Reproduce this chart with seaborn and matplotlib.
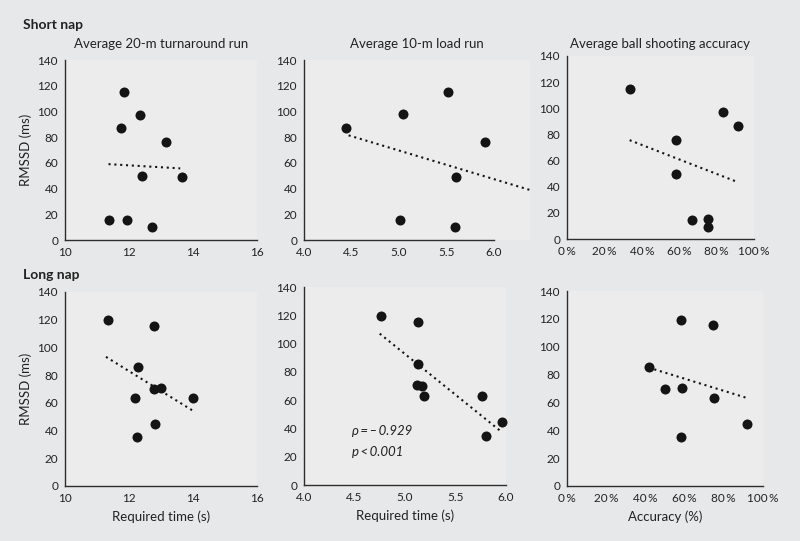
import matplotlib
matplotlib.use("Agg")
import matplotlib.pyplot as plt
import seaborn as sns

# Values
short_turn_x = [11.83, 12.35, 11.75, 13.15, 12.41, 13.66, 11.36, 11.94, 12.73]
short_turn_y = [115, 97.5, 87, 76, 50, 49, 15.3, 15.6, 10.4]
short_load_x = [4.44, 5.04, 5.52, 5.91, 5.60, 5.01, 5.59]
short_load_y = [87.2, 97.7, 115.3, 76.4, 49.1, 15.2, 10.0]
short_acc_x = [33.5, 83.3, 91.6, 58.4, 58.4, 66.9, 75.3, 75.3]
short_acc_y = [115, 97.5, 86.8, 76.1, 49.4, 14.8, 15, 9.4]

long_turn_x = [11.33, 12.77, 12.27, 12.79, 13.0, 12.20, 14.01, 12.81, 12.25]
long_turn_y = [119.6, 115.5, 86.2, 70.1, 70.8, 63.6, 63.4, 45.1, 35.5]
long_load_x = [4.76, 5.13, 5.13, 5.12, 5.17, 5.19, 5.76, 5.96, 5.80]
long_load_y = [119.3, 115.2, 85.6, 70.5, 70.0, 62.9, 62.7, 44.5, 34.9]
long_acc_x = [58.3, 74.7, 41.7, 50.0, 58.5, 74.8, 91.7, 58.3]
long_acc_y = [118.9, 115.3, 85.7, 69.9, 70.4, 62.9, 44.7, 35.2]

# trend line end points (x0, x1), (y0, y1)
trend_short_turn = ([11.36, 13.6], [59, 55.7])
trend_short_load = ([4.47, 6.38], [81.4, 38.9])
trend_short_acc = ([33.5, 89.9], [75.6, 44.3])
trend_long_turn = ([11.28, 14.02], [93.2, 54.0])
trend_long_load = ([4.75, 5.95], [107, 37.9])
trend_long_acc = ([41.7, 91.8], [85, 63.2])

titles = ["Average 20-m turnaround run", "Average 10-m load run",
          "Average ball shooting accuracy"]
y_ticks = [0, 20, 40, 60, 80, 100, 120, 140]
time_ticks = [10, 12, 14, 16]
load_ticks = [4.0, 4.5, 5.0, 5.5, 6.0]
load_labels = ["4.0", "4.5", "5.0", "5.5", "6.0"]
acc_ticks = [0, 20, 40, 60, 80, 100]
acc_labels = ["0\u2009%", "20\u2009%", "40\u2009%", "60\u2009%", "80\u2009%", "100\u2009%"]

sns.set_theme(style="white")
plt.rcParams["font.family"] = ["Lato", "DejaVu Sans"]

bg = "#e7e8e9"
panel_bg = "#ececed"
dot_col = "#141414"
axis_col = "#2e2e2e"
text_col = "#222222"

W, H = 800, 541
fig = plt.figure(figsize=(8, 5.41), dpi=100, facecolor=bg)


def make_ax(left, right, top, bottom):
    return fig.add_axes([left / W, 1 - bottom / H, (right - left) / W, (bottom - top) / H])


def style(ax, xlim, xticks, xlabels, spine_end):
    ax.set_facecolor(panel_bg)
    ax.set_xlim(xlim)
    ax.set_ylim(0, 140)
    ax.set_yticks(y_ticks)
    ax.set_xticks(xticks)
    ax.set_xticklabels(xlabels)
    for s in ["top", "right"]:
        ax.spines[s].set_visible(False)
    for s in ["left", "bottom"]:
        ax.spines[s].set_color(axis_col)
        ax.spines[s].set_linewidth(1.0)
    ax.spines["bottom"].set_bounds(xlim[0], spine_end)
    ax.tick_params(axis="x", length=0, pad=5, labelsize=8.5, colors=text_col)
    ax.tick_params(axis="y", length=0, pad=5, labelsize=8.5, colors=text_col)
    ax.set_xlabel("")
    ax.set_ylabel("")


def draw(ax, xs, ys, trend):
    sns.scatterplot(x=xs, y=ys, ax=ax, s=52, color=dot_col, edgecolor=dot_col,
                    linewidth=0, clip_on=False, zorder=3)
    ax.plot(trend[0], trend[1], color=dot_col, lw=1.5,
            linestyle=(0, (1, 1.8)), clip_on=False, zorder=2)


# top row: short nap
ax1 = make_ax(65, 257, 60, 240)
draw(ax1, short_turn_x, short_turn_y, trend_short_turn)
style(ax1, (10, 16), time_ticks, [str(t) for t in time_ticks], 16)

ax2 = make_ax(304, 530, 60, 240)
draw(ax2, short_load_x, short_load_y, trend_short_load)
style(ax2, (4.0, 6.38), load_ticks, load_labels, 6.0)

ax3 = make_ax(567, 754, 56, 239)
draw(ax3, short_acc_x, short_acc_y, trend_short_acc)
style(ax3, (0, 100), acc_ticks, acc_labels, 100)

# bottom row: long nap
ax4 = make_ax(65, 257, 292, 486)
draw(ax4, long_turn_x, long_turn_y, trend_long_turn)
style(ax4, (10, 16), time_ticks, [str(t) for t in time_ticks], 16)

ax5 = make_ax(304, 506, 287, 485)
draw(ax5, long_load_x, long_load_y, trend_long_load)
style(ax5, (4.0, 6.0), load_ticks, load_labels, 6.0)

ax6 = make_ax(567, 763, 291, 486)
draw(ax6, long_acc_x, long_acc_y, trend_long_acc)
style(ax6, (0, 100), acc_ticks, acc_labels, 100)

for ax, t, p in zip([ax1, ax2, ax3], titles, [8.5, 8.5, 5.8]):
    ax.set_title(t, fontsize=9.5, color=text_col, pad=p)

for ax in [ax1, ax4]:
    ax.set_ylabel("RMSSD (ms)", fontsize=9.5, color=text_col, labelpad=4)

ax4.set_xlabel("Required time (s)", fontsize=9.5, color=text_col, labelpad=5)
ax5.set_xlabel("Required time (s)", fontsize=9.5, color=text_col, labelpad=5)
ax6.set_xlabel("Accuracy (%)", fontsize=9.5, color=text_col, labelpad=5)

ax5.text(4.48, 38.5, "\u03c1\u2009=\u2009\u2013\u20090.929", fontsize=9.5, style="italic",
         color=text_col, va="center", ha="left")
ax5.text(4.48, 23.3, "p\u2009<\u20090.001", fontsize=9.5, style="italic",
         color=text_col, va="center", ha="left")

fig.text(23 / W, 1 - 25 / H, "Short nap", fontsize=10, fontweight="bold",
         color=text_col, va="center", ha="left")
fig.text(23 / W, 1 - 275 / H, "Long nap", fontsize=10, fontweight="bold",
         color=text_col, va="center", ha="left")

fig.savefig("out.png", dpi=100, facecolor=bg)
